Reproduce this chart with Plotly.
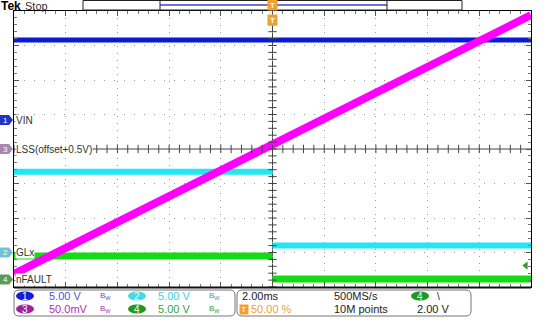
import numpy as np
import plotly.graph_objects as go

W, H = 551, 330

# ---- data (time in ms, channel values in volts / mV) ----
time_full = [-10, 10]
time_steps = [-10, 0, None, 0, 10]

ch1_name, ch1_scale, ch1_pos = "VIN", 5.0, 0.84
ch1_values = [11.6, 11.6]

ch2_name, ch2_scale, ch2_pos = "GLx", 5.0, -3.0
ch2_values = [11.7, 11.7, None, 1.0, 1.0]

ch3_name, ch3_scale, ch3_pos = "LSS(offset+0.5V)", 50.0, 0.0
ch3_values = [-181, 194]  # mV

ch4_name, ch4_scale, ch4_pos = "nFAULT", 5.0, -3.78
ch4_values = [3.4, 3.4, None, 0.05, 0.05]

trig_level = 2.0  # V on ch4

row1_labels = ["5.00 V", "5.00 V"]
row2_labels = ["50.0mV", "5.00 V"]
horiz_labels = ["2.00ms", "500MS/s", "10M points", "2.00 V", "50.00 %"]


def to_div(vals, scale, pos):
    return [None if v is None else pos + v / scale for v in vals]


def px(x):
    return x / W


def py(y):
    return 1 - y / H


FONT = "Liberation Sans"
BLUE = "#0a1ad8"
CYAN = "#22e6f2"
MAG = "#ff00ff"
GREEN = "#14dc14"
ORANGE = "#f0a030"

fig = go.Figure()

# traces
fig.add_trace(go.Scatter(x=time_full, y=to_div(ch1_values, ch1_scale, ch1_pos), mode="lines",
                         line=dict(color=BLUE, width=5)))
fig.add_trace(go.Scatter(x=time_steps, y=to_div(ch2_values, ch2_scale, ch2_pos), mode="lines",
                         line=dict(color=CYAN, width=6), connectgaps=False))
fig.add_trace(go.Scatter(x=time_steps, y=to_div(ch4_values, ch4_scale, ch4_pos), mode="lines",
                         line=dict(color=GREEN, width=7), connectgaps=False))
fig.add_trace(go.Scatter(x=time_full, y=to_div(ch3_values, ch3_scale, ch3_pos), mode="lines",
                         line=dict(color=MAG, width=8)))

# center crosshair ticks
fig.add_trace(go.Scatter(x=np.arange(-10, 10.001, 0.4), y=[0] * 51, mode="markers",
                         marker=dict(symbol="line-ns", size=6, line=dict(color="#444", width=1)),
                         hoverinfo="skip"))
fig.add_trace(go.Scatter(x=[0] * 41, y=np.arange(-4, 4.001, 0.2), mode="markers",
                         marker=dict(symbol="line-ew", size=6, line=dict(color="#444", width=1)),
                         hoverinfo="skip"))

# trigger level arrow
fig.add_trace(go.Scatter(x=[9.8], y=[ch4_pos + trig_level / ch4_scale], mode="markers",
                         marker=dict(symbol="triangle-left", size=7, color="#2a9a2a"),
                         cliponaxis=False))

shapes = []
# crosshair lines
shapes.append(dict(type="line", xref="x", yref="y", x0=-10, x1=10, y0=0, y1=0,
                   line=dict(color="#444", width=1), layer="below"))
shapes.append(dict(type="line", xref="x", yref="y", x0=0, x1=0, y0=-4, y1=4,
                   line=dict(color="#444", width=1), layer="below"))
# heavier bottom border
shapes.append(dict(type="line", xref="paper", yref="paper", x0=px(14), x1=px(531), y0=py(287.5), y1=py(287.5),
                   line=dict(color="#111", width=2)))

annotations = []


def ann(**kw):
    d = dict(showarrow=False, xanchor="left", yanchor="middle")
    d.update(kw)
    annotations.append(d)


# left channel markers + labels
markers = [("1", ch1_pos, "#2233cc", ch1_name),
           ("3", ch3_pos, "#a888b0", ch3_name),
           ("2", ch2_pos, "#6cc6d0", ch2_name),
           ("4", ch4_pos, "#5a9a5a", ch4_name)]
h = 5 / 34.5
for num, pos, col, name in markers:
    shapes.append(dict(type="path", xref="paper", yref="y",
                       path=f"M {px(0)},{pos + h} L {px(9)},{pos + h} L {px(13)},{pos} "
                            f"L {px(9)},{pos - h} L {px(0)},{pos - h} Z",
                       fillcolor=col, line=dict(width=0)))
    ann(xref="paper", yref="y", x=px(5.5), y=pos, text=num, xanchor="center",
        font=dict(family=FONT, size=8, color="white"))
    ann(xref="paper", yref="y", x=px(15), y=pos, text=name,
        font=dict(family=FONT, size=10, color="#333"), bgcolor="white", borderpad=0)

# top bar
ann(xref="paper", yref="paper", x=px(-1), y=py(6), text="<b>Tek</b>",
    font=dict(family=FONT, size=12, color="black"))
ann(xref="paper", yref="paper", x=px(23), y=py(6), text="Stop",
    font=dict(family=FONT, size=11, color="#333"))
shapes.append(dict(type="rect", xref="paper", yref="paper", x0=px(83), x1=px(462), y0=py(10), y1=py(0.5),
                   line=dict(color="#222", width=1), fillcolor="white"))
shapes.append(dict(type="line", xref="paper", yref="paper", x0=px(160), x1=px(387), y0=py(5), y1=py(5),
                   line=dict(color="#7070e0", width=2)))
for xx in (160, 387):
    shapes.append(dict(type="line", xref="paper", yref="paper", x0=px(xx), x1=px(xx), y0=py(10), y1=py(0.5),
                       line=dict(color="#222", width=1)))
# trigger position markers
for yy in (5, 20):
    ann(xref="paper", yref="paper", x=px(272.5), y=py(yy), text="<b>T</b>", xanchor="center",
        bgcolor=ORANGE, borderpad=0, width=9, height=10,
        font=dict(family=FONT, size=8, color="white"))


# bottom info boxes
def rrect(x0, y0, x1, y1, r=5):
    return (f"M {px(x0 + r)},{py(y0)} L {px(x1 - r)},{py(y0)} Q {px(x1)},{py(y0)} {px(x1)},{py(y0 + r)} "
            f"L {px(x1)},{py(y1 - r)} Q {px(x1)},{py(y1)} {px(x1 - r)},{py(y1)} "
            f"L {px(x0 + r)},{py(y1)} Q {px(x0)},{py(y1)} {px(x0)},{py(y1 - r)} "
            f"L {px(x0)},{py(y0 + r)} Q {px(x0)},{py(y0)} {px(x0 + r)},{py(y0)} Z")


shapes.append(dict(type="path", xref="paper", yref="paper", path=rrect(14, 290, 235, 316),
                   line=dict(color="#777", width=1)))
shapes.append(dict(type="path", xref="paper", yref="paper", path=rrect(237, 290, 471, 316),
                   line=dict(color="#777", width=1)))


def oval(cx, cy, num, col):
    shapes.append(dict(type="circle", xref="paper", yref="paper", x0=px(cx - 9), x1=px(cx + 9),
                       y0=py(cy + 4.5), y1=py(cy - 4.5), fillcolor=col, line=dict(width=0)))
    ann(xref="paper", yref="paper", x=px(cx), y=py(cy), text=num, xanchor="center",
        font=dict(family=FONT, size=10, color="white"))


def txt(x, y, t, col, size=11):
    ann(xref="paper", yref="paper", x=px(x), y=py(y), text=t,
        font=dict(family=FONT, size=size, color=col))


R1, R2 = 296, 309
oval(25, R1, "1", "#1a1ad8")
txt(47, R1, row1_labels[0], "#5050e0")
txt(98, R1, "B<sub>W</sub>", "#5050e0", 8)
oval(137, R1, "2", "#44d8e8")
txt(156, R1, row1_labels[1], "#44d0e0")
txt(207, R1, "B<sub>W</sub>", "#44a0a0", 8)

oval(25, R2, "3", "#a020a0")
txt(47, R2, row2_labels[0], "#b030b0")
txt(98, R2, "B<sub>W</sub>", "#b030b0", 8)
oval(137, R2, "4", "#1e9a1e")
txt(156, R2, row2_labels[1], "#40a040")
txt(207, R2, "B<sub>W</sub>", "#40a040", 8)

txt(240, R1, horiz_labels[0], "#222")
txt(332, R1, horiz_labels[1], "#222")
txt(332, R2, horiz_labels[2], "#222")
oval(420, R1, "4", "#1e9a1e")
txt(435, R1, "\\", "#222", 10)
txt(415, R2, horiz_labels[3], "#222")
ann(xref="paper", yref="paper", x=px(244), y=py(R2), text="<b>T</b>", xanchor="center",
    bgcolor=ORANGE, borderpad=0, width=8, height=9,
    font=dict(family=FONT, size=7, color="white"))
txt(249, R2, horiz_labels[4], ORANGE)

axis_common = dict(showticklabels=False, showline=True, linecolor="black", linewidth=1, mirror="ticks",
                   ticks="inside", ticklen=5, tickcolor="#555", zeroline=False, showgrid=True,
                   gridcolor="#9a9a9a", gridwidth=1, fixedrange=True)

fig.update_layout(
    width=W, height=H, margin=dict(l=0, r=0, t=0, b=0),
    paper_bgcolor="white", plot_bgcolor="white", showlegend=False,
    xaxis=dict(range=[-10, 10], dtick=2, tick0=0, domain=[px(14), px(531)], griddash="1px,6px",
               minor=dict(dtick=0.4, ticks="inside", ticklen=3, tickcolor="#777", showgrid=False),
               **axis_common),
    yaxis=dict(range=[-4, 4], dtick=1, tick0=0, domain=[py(287), py(11)], griddash="1px,9px",
               minor=dict(dtick=0.2, ticks="inside", ticklen=3, tickcolor="#777", showgrid=False),
               **axis_common),
    shapes=shapes, annotations=annotations,
)

fig.write_html("out.html")
